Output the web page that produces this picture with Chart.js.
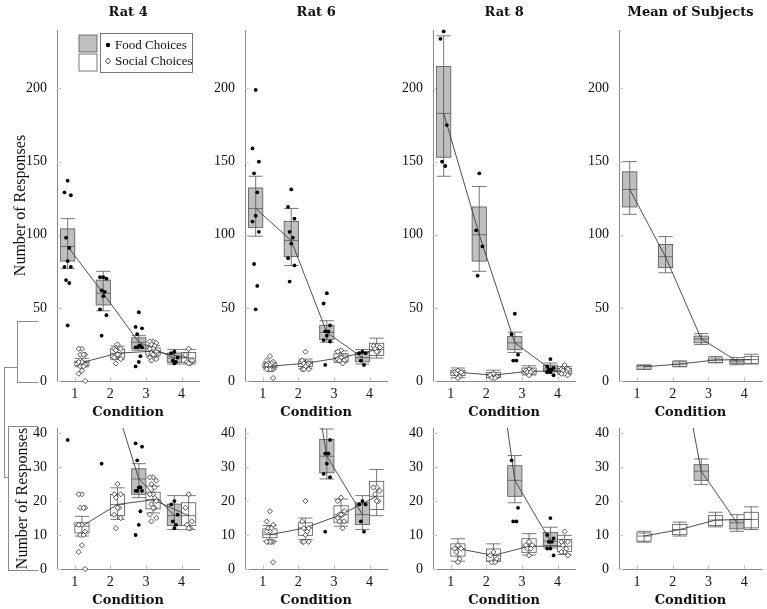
<!DOCTYPE html>
<html>
<head>
<meta charset="utf-8">
<script src="https://cdn.jsdelivr.net/npm/chart.js@4.4.0/dist/chart.umd.min.js"></script>
<style>
  body { margin: 0; background: #fff; width: 767px; height: 609px; position: relative; overflow: hidden; }
  canvas { position: absolute; }
  .br { position: absolute; border: 0 solid #8a8a8a; }
</style>
</head>
<body>
<!-- zoom bracket linking the top row (0-41) to the bottom row -->
<div class="br" style="left:17px;top:321px;width:20px;height:60px;border-width:1px 0 1px 1px"></div>
<div class="br" style="left:4px;top:367px;width:13px;height:110px;border-width:1px 0 0 1px"></div>
<div class="br" style="left:4px;top:477px;width:4px;height:0;border-width:1px 0 0 0"></div>
<div class="br" style="left:8px;top:426px;width:29px;height:143px;border-width:1px 0 1px 1px"></div>

<script>
// ---- data ----
const CONDITIONS = [1, 2, 3, 4];
const X_TICKS = [1, 2, 3, 4];
const Y_TICKS_FULL = [0, 50, 100, 150, 200];
const Y_TICKS_ZOOM = [0, 10, 20, 30, 40];

// raw responses per condition
const rat4FoodPts = [
  [137, 129, 127, 98, 91, 82, 78, 78, 69, 67, 38],
  [71, 71, 70, 62, 61, 58, 49, 45, 31],
  [47, 37, 36, 32, 24, 24, 23, 23, 23, 17, 13, 10],
  [20, 19, 16, 14, 13, 12]
];
const rat4SocialPts = [
  [22, 22, 18, 18, 18, 13, 13, 11, 10, 10, 7, 5, 0],
  [25, 22, 22, 21, 18, 18, 16, 15, 12],
  [27, 27, 26, 25, 24, 22, 22, 20, 19, 18, 18, 16, 15, 14],
  [22, 18, 14, 13, 12, 12]
];
const rat6FoodPts = [
  [199, 159, 150, 142, 129, 113, 109, 102, 80, 65, 49],
  [131, 119, 111, 102, 98, 94, 84, 79, 68],
  [60, 53, 38, 34, 34, 31, 28, 27, 11],
  [20, 19, 19, 14, 11]
];
const rat6SocialPts = [
  [17, 14, 13, 12, 12, 11, 11, 8, 8, 8, 8, 8, 2],
  [20, 14, 12, 12, 11, 10, 8, 8, 8],
  [21, 20, 17, 16, 16, 16, 15, 14, 14, 12],
  [24, 24, 23, 22, 20, 20]
];
const rat8FoodPts = [
  [239, 234, 175, 150, 147],
  [142, 103, 92, 72],
  [46, 32, 18, 14, 14],
  [15, 10, 9, 8, 8, 6, 6, 4]
];
const rat8SocialPts = [
  [7, 6, 6, 5, 3, 2],
  [5, 4, 3, 2, 2],
  [8, 7, 7, 6, 6, 4],
  [11, 8, 8, 7, 6, 5, 5, 4]
];

// box stats per condition: [whiskerLow, boxLow, centre, boxHigh, whiskerHigh]
const rat4FoodBox = [[77, 82, 92, 104, 111], [48, 52, 60, 69, 75], [21, 22, 26.5, 29.5, 31], [11.6, 12.8, 15.7, 19.1, 21.6]];
const rat4SocialBox = [[9.7, 10.6, 12.6, 13.6, 15.5], [14.6, 15.7, 19, 21.9, 23.9], [16.5, 17.7, 20.4, 22.6, 24.4], [11.6, 12.8, 15.7, 19.5, 21.6]];
const rat6FoodBox = [[99, 105, 118, 132, 140], [79, 85, 96, 109, 118], [26.5, 28.3, 33.2, 38.1, 41.2], [11.6, 13.1, 16, 19.5, 21.6]];
const rat6SocialBox = [[8.2, 9.2, 10.1, 11.8, 12.8], [8.7, 9.9, 12.1, 13.6, 15], [12.6, 13.6, 16, 18.6, 20.6], [15.7, 17.5, 21.4, 25.8, 29.3]];
const rat8FoodBox = [[140, 153, 183, 215, 236], [75, 82, 100, 119, 133], [19.5, 21.4, 26.1, 30.4, 33.4], [6.2, 6.9, 8.2, 10.8, 12.3]];
const rat8SocialBox = [[2.3, 3.8, 6, 7.4, 8.9], [2.3, 2.3, 4, 5.9, 7.4], [4.1, 4.8, 6.7, 8.9, 10.4], [4.3, 5.2, 6.7, 8.7, 9.9]];
const meanFoodBox = [[114, 119, 131, 143, 150], [74, 77.5, 85, 93.4, 98.7], [24.9, 26.1, 28.8, 30.7, 32.4], [11.1, 11.8, 13.6, 14.6, 16]];
const meanSocialBox = [[7.9, 8.2, 9.7, 10.6, 11.1], [9.7, 10.1, 11.6, 13.1, 13.8], [12.4, 12.8, 14.4, 15.7, 16.7], [11.6, 12.1, 14.6, 16.7, 18.3]];

// ---- look ----
const SERIF = '"Liberation Serif", "DejaVu Serif", serif';
const BOLD = '"DejaVu Serif", serif';
const AXIS = '#8a8a8a';
const EDGE = '#555';
const FOOD_FILL = '#bfbfbf';
const JITTER = [0, -0.09, 0.09, -0.045, 0.045];
const FOOD_SHIFT = -0.2, SOCIAL_SHIFT = 0.2, BOX_HALF = 0.2;

const COL_LEFT = [57, 245, 433, 619];
const PLOT_W = 143;
const ROWS = [
  { top: 0, height: 420, padTop: 30, xh: 39, max: 240, ticks: Y_TICKS_FULL },
  { top: 400, height: 209, padTop: 28, xh: 40, max: 41.5, ticks: Y_TICKS_ZOOM }
];

const panels = [
  { title: 'Rat 4', food: rat4FoodPts, social: rat4SocialPts, fb: rat4FoodBox, sb: rat4SocialBox },
  { title: 'Rat 6', food: rat6FoodPts, social: rat6SocialPts, fb: rat6FoodBox, sb: rat6SocialBox },
  { title: 'Rat 8', food: rat8FoodPts, social: rat8SocialPts, fb: rat8FoodBox, sb: rat8SocialBox },
  { title: 'Mean of Subjects', food: null, social: null, fb: meanFoodBox, sb: meanSocialBox }
];

function scatterPoints(lists, shift) {
  const out = [];
  if (!lists) return out;
  lists.forEach((vals, i) => {
    vals.forEach((v, k) => out.push({ x: CONDITIONS[i] + shift + JITTER[k % JITTER.length], y: v }));
  });
  return out;
}

function centreLine(boxes, shift) {
  return boxes.map((b, i) => ({ x: CONDITIONS[i] + shift, y: b[2] }));
}

/* draws the boxes + whiskers through the chart scales, plus inner tick marks */
function boxPlugin(foodBox, socialBox) {
  return {
    id: 'boxes',
    beforeDatasetsDraw(chart) {
      const { ctx, chartArea: a, scales: { x, y } } = chart;
      ctx.save();
      // little inward tick marks like the original
      ctx.strokeStyle = '#c8c8c8';
      ctx.lineWidth = 1;
      x.ticks.forEach(t => {
        const px = Math.round(x.getPixelForValue(t.value)) + 0.5;
        ctx.beginPath(); ctx.moveTo(px, a.bottom); ctx.lineTo(px, a.bottom - 4); ctx.stroke();
      });
      y.ticks.forEach(t => {
        const py = Math.round(y.getPixelForValue(t.value)) + 0.5;
        ctx.beginPath(); ctx.moveTo(a.left, py); ctx.lineTo(a.left + 4, py); ctx.stroke();
      });
      ctx.beginPath();
      ctx.rect(a.left, a.top, a.right - a.left, a.bottom - a.top);
      ctx.clip();
      const draw = (boxes, shift, fill) => {
        boxes.forEach((b, i) => {
          const c = CONDITIONS[i] + shift;
          const x0 = x.getPixelForValue(c - BOX_HALF);
          const x1 = x.getPixelForValue(c + BOX_HALF);
          const xm = x.getPixelForValue(c);
          const [wl, bl, m, bh, wh] = b.map(v => y.getPixelForValue(v));
          ctx.fillStyle = fill;
          ctx.fillRect(x0, bh, x1 - x0, bl - bh);
          ctx.strokeStyle = EDGE;
          ctx.lineWidth = 0.8;
          ctx.strokeRect(x0, bh, x1 - x0, bl - bh);
          ctx.beginPath();
          ctx.moveTo(xm, wl); ctx.lineTo(xm, wh);
          ctx.moveTo(x0, wl); ctx.lineTo(x1, wl);
          ctx.moveTo(x0, wh); ctx.lineTo(x1, wh);
          ctx.moveTo(x0, m); ctx.lineTo(x1, m);
          ctx.stroke();
        });
      };
      draw(foodBox, FOOD_SHIFT, FOOD_FILL);
      draw(socialBox, SOCIAL_SHIFT, '#ffffff');
      ctx.restore();
    }
  };
}

const titlePlugin = {
  id: 'panelTitle',
  afterDraw(chart) {
    const t = chart.$panelTitle;
    if (!t) return;
    const { ctx, chartArea: a } = chart;
    ctx.save();
    ctx.font = 'bold 13px ' + BOLD;
    ctx.fillStyle = '#111';
    ctx.textAlign = 'center';
    ctx.textBaseline = 'middle';
    ctx.fillText(t, (a.left + a.right) / 2, 13);
    ctx.restore();
  }
};

const legendPlugin = {
  id: 'boxLegend',
  afterDraw(chart) {
    if (!chart.$withLegend) return;
    const ctx = chart.ctx;
    ctx.save();
    ctx.lineWidth = 0.8;
    ctx.strokeStyle = EDGE;
    ctx.fillStyle = FOOD_FILL;
    ctx.fillRect(79, 35, 18, 17); ctx.strokeRect(79, 35, 18, 17);
    ctx.fillStyle = '#fff';
    ctx.fillRect(79, 54, 18, 17); ctx.strokeRect(79, 54, 18, 17);
    ctx.strokeRect(100.5, 33.5, 92, 39);
    ctx.fillStyle = '#000';
    ctx.beginPath(); ctx.arc(108, 45, 2.2, 0, Math.PI * 2); ctx.fill();
    ctx.lineWidth = 0.7;
    ctx.strokeStyle = '#111';
    ctx.beginPath();
    ctx.moveTo(108, 58); ctx.lineTo(110.5, 61); ctx.lineTo(108, 64); ctx.lineTo(105.5, 61); ctx.closePath();
    ctx.stroke();
    ctx.fillStyle = '#111';
    ctx.font = '13px ' + SERIF;
    ctx.textBaseline = 'middle';
    ctx.fillText('Food Choices', 115, 45.5);
    ctx.fillText('Social Choices', 115, 61.5);
    ctx.restore();
  }
};

function makePanel(col, rowIdx) {
  const p = panels[col];
  const row = ROWS[rowIdx];
  const yw = col === 0 ? 57 : 45;
  const canvas = document.createElement('canvas');
  canvas.width = yw + PLOT_W + 4;
  canvas.height = row.height;
  canvas.style.left = (COL_LEFT[col] - yw) + 'px';
  canvas.style.top = row.top + 'px';
  document.body.appendChild(canvas);

  const pointClip = { left: 6, right: 6, top: 4, bottom: 6 };
  const chart = new Chart(canvas, {
    type: 'scatter',
    data: {
      datasets: [
        {
          data: scatterPoints(p.food, FOOD_SHIFT),
          pointStyle: 'circle', pointRadius: 1.9, backgroundColor: '#000', borderWidth: 0,
          clip: pointClip
        },
        {
          data: scatterPoints(p.social, SOCIAL_SHIFT),
          pointStyle: 'rectRot', pointRadius: 2.6, backgroundColor: '#fff', borderColor: '#111', borderWidth: 0.7,
          clip: pointClip
        },
        {
          type: 'line', data: centreLine(p.fb, FOOD_SHIFT),
          borderColor: '#3c3c3c', borderWidth: 0.9, pointRadius: 0, tension: 0
        },
        {
          type: 'line', data: centreLine(p.sb, SOCIAL_SHIFT),
          borderColor: '#3c3c3c', borderWidth: 0.9, pointRadius: 0, tension: 0
        }
      ]
    },
    options: {
      responsive: false,
      animation: false,
      devicePixelRatio: 1,
      events: [],
      layout: { padding: { top: row.padTop, right: 4, left: 0, bottom: 0 } },
      plugins: { legend: { display: false }, tooltip: { enabled: false }, title: { display: false } },
      scales: {
        x: {
          type: 'linear', min: 0.5, max: 4.5,
          afterBuildTicks: s => { s.ticks = X_TICKS.map(v => ({ value: v })); },
          afterFit: s => { s.height = row.xh; },
          grid: { display: false, drawTicks: false },
          border: { display: true, color: AXIS, width: 1 },
          ticks: { padding: 5, color: '#111', font: { family: SERIF, size: 14 } },
          title: {
            display: true, text: 'Condition', color: '#111',
            font: { family: BOLD, size: 13, weight: 'bold' }, padding: { top: 0, bottom: rowIdx ? 1 : 0 }
          }
        },
        y: {
          type: 'linear', min: 0, max: row.max,
          afterBuildTicks: s => { s.ticks = row.ticks.map(v => ({ value: v })); },
          afterFit: s => { s.width = yw; },
          grid: { display: false, drawTicks: false },
          border: { display: true, color: AXIS, width: 1 },
          ticks: { padding: 10, color: '#111', font: { family: SERIF, size: 14 } },
          title: {
            display: col === 0, text: 'Number of Responses', color: '#111',
            font: { family: SERIF, size: 16 }, padding: { top: rowIdx ? 13 : 11, bottom: 0 }
          }
        }
      }
    },
    plugins: [boxPlugin(p.fb, p.sb), titlePlugin, legendPlugin]
  });
  chart.$panelTitle = rowIdx === 0 ? p.title : null;
  chart.$withLegend = rowIdx === 0 && col === 0;
  chart.draw();
}

for (let r = 0; r < 2; r++) {
  for (let c = 0; c < 4; c++) makePanel(c, r);
}
</script>
</body>
</html>
